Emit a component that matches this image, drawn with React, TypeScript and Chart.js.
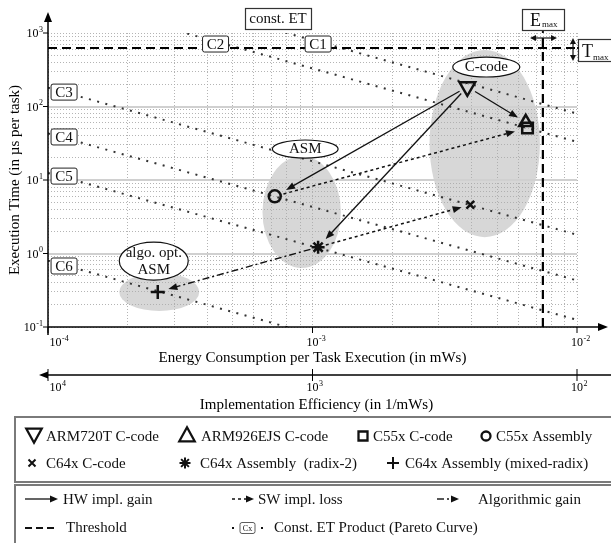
import React, { useEffect, useRef } from 'react';
import { Chart, registerables } from 'chart.js';

Chart.register(...registerables);

const FONT = '"Liberation Serif", "Times New Roman", Times, serif';

// ---------------- data ----------------
const seriesNames = [
  'ARM720T C-code',
  'ARM926EJS C-code',
  'C55x C-code',
  'C55x Assembly',
  'C64x C-code',
  'C64x Assembly  (radix-2)',
  'C64x Assembly (mixed-radix)',
];
const energy = [3.85e-3, 6.4e-3, 6.5e-3, 7.2e-4, 3.95e-3, 1.05e-3, 2.6e-4]; // mWs
const execTime = [185, 61, 51, 6.0, 4.6, 1.22, 0.3]; // µs
const pointStyles = ['triangle', 'triangle', 'rect', 'circle', 'crossRot', 'star', 'cross'];
const pointRotations = [180, 0, 0, 0, 0, 0, 0];
const pointRadii = [9, 7.5, 7.5, 6, 5.5, 6.5, 7];

const etNames = ['C1', 'C2', 'C3', 'C4', 'C5', 'C6'];
const etProducts = [0.8, 0.33, 0.018, 0.0043, 0.00125, 0.00008];
const etLabelEnergy = [1.05e-3, 4.3e-4, 1.15e-4, 1.15e-4, 1.15e-4, 1.15e-4];
const etLabelTime = [708, 708, 157, 38.5, 11.3, 0.676];

const tMax = 625;
const eMax = 7.43e-3;

const xTickExps = [-4, -3, -2];
const yTickExps = [-1, 0, 1, 2, 3];
const effTickExps = [4, 3, 2];

const groupNames = [['C-code'], ['ASM'], ['algo. opt.', 'ASM']];
const shadeEnergy = [[2.77e-3, 7.24e-3], [6.47e-4, 1.28e-3], [1.86e-4, 3.73e-4]];
const shadeTime = [[1.67, 588], [0.635, 21.2], [0.165, 0.543]];
const labelEnergy = [[3.39e-3, 6.08e-3], [7.05e-4, 1.25e-3], [1.86e-4, 3.39e-4]];
const labelTime = [[252, 471], [19.9, 35], [0.435, 1.43]];

const arrowFrom = [0, 0, 0, 3, 5, 5];
const arrowTo = [3, 1, 5, 2, 4, 6];
const arrowKind = ['hw', 'hw', 'hw', 'sw', 'sw', 'algo'];
const arrowGapStart = [9, 9, 9, 9, 8, 8];
const arrowGapEnd = [13, 9, 11, 13, 9, 11];

// ---------------- helpers ----------------
function logTicks(lo: number, hi: number) {
  const t: { value: number; major: boolean }[] = [];
  for (let e = lo; e < hi; e++) {
    for (let m = 1; m < 10; m++) t.push({ value: m * Math.pow(10, e), major: m === 1 });
  }
  t.push({ value: Math.pow(10, hi), major: true });
  return t;
}

function head(ctx: CanvasRenderingContext2D, x: number, y: number, ang: number, len = 9, half = 3.5) {
  ctx.save();
  ctx.translate(x, y);
  ctx.rotate(ang);
  ctx.beginPath();
  ctx.moveTo(0, 0);
  ctx.lineTo(-len, -half);
  ctx.lineTo(-len, half);
  ctx.closePath();
  ctx.fill();
  ctx.restore();
}

function line(ctx: CanvasRenderingContext2D, x1: number, y1: number, x2: number, y2: number) {
  ctx.beginPath();
  ctx.moveTo(x1, y1);
  ctx.lineTo(x2, y2);
  ctx.stroke();
}

function pow10(ctx: CanvasRenderingContext2D, exp: string, x: number, y: number, align: string) {
  const bf = `12px ${FONT}`;
  const ef = `8px ${FONT}`;
  ctx.font = bf;
  const wb = ctx.measureText('10').width;
  ctx.font = ef;
  const we = ctx.measureText(exp).width;
  const x0 = align === 'left' ? x : align === 'right' ? x - wb - we - 0.5 : x - wb / 2;
  ctx.textAlign = 'left';
  ctx.textBaseline = 'alphabetic';
  ctx.font = bf;
  ctx.fillText('10', x0, y + 4);
  ctx.font = ef;
  ctx.fillText(exp, x0 + wb + 0.5, y - 1.5);
}

function rrect(ctx: CanvasRenderingContext2D, x: number, y: number, w: number, h: number, r: number) {
  ctx.beginPath();
  if ((ctx as any).roundRect) (ctx as any).roundRect(x, y, w, h, r);
  else ctx.rect(x, y, w, h);
}

function text(ctx: CanvasRenderingContext2D, s: string, x: number, y: number, size = 15, align: CanvasTextAlign = 'left', base: CanvasTextBaseline = 'alphabetic') {
  ctx.font = `${size}px ${FONT}`;
  ctx.textAlign = align;
  ctx.textBaseline = base;
  ctx.fillText(s, x, y);
}

function marker(ctx: CanvasRenderingContext2D, style: string, cx: number, cy: number, s: number, rot = 0) {
  ctx.save();
  ctx.strokeStyle = '#111';
  ctx.lineWidth = 2.3;
  ctx.beginPath();
  if (style === 'triangle') {
    const dir = rot === 180 ? -1 : 1;
    ctx.moveTo(cx, cy - dir * s * 0.55);
    ctx.lineTo(cx + s * 0.55, cy + dir * s * 0.45);
    ctx.lineTo(cx - s * 0.55, cy + dir * s * 0.45);
    ctx.closePath();
    ctx.stroke();
  } else if (style === 'rect') {
    ctx.rect(cx - s / 2, cy - s / 2, s, s);
    ctx.stroke();
  } else if (style === 'circle') {
    ctx.arc(cx, cy, s / 2, 0, Math.PI * 2);
    ctx.stroke();
  } else if (style === 'crossRot') {
    ctx.lineWidth = 2;
    ctx.moveTo(cx - s / 2, cy - s / 2); ctx.lineTo(cx + s / 2, cy + s / 2);
    ctx.moveTo(cx + s / 2, cy - s / 2); ctx.lineTo(cx - s / 2, cy + s / 2);
    ctx.stroke();
  } else if (style === 'star') {
    ctx.lineWidth = 2;
    for (let k = 0; k < 4; k++) {
      const a = (k * Math.PI) / 4;
      ctx.moveTo(cx - Math.cos(a) * s / 2, cy - Math.sin(a) * s / 2);
      ctx.lineTo(cx + Math.cos(a) * s / 2, cy + Math.sin(a) * s / 2);
    }
    ctx.stroke();
  } else if (style === 'cross') {
    ctx.lineWidth = 2;
    ctx.moveTo(cx - s / 2, cy); ctx.lineTo(cx + s / 2, cy);
    ctx.moveTo(cx, cy - s / 2); ctx.lineTo(cx, cy + s / 2);
    ctx.stroke();
  }
  ctx.restore();
}

function arrowStyle(ctx: CanvasRenderingContext2D, kind: string) {
  if (kind === 'hw') { ctx.setLineDash([]); ctx.lineWidth = 1.3; }
  else if (kind === 'sw') { ctx.setLineDash([3, 3]); ctx.lineWidth = 1.5; }
  else { ctx.setLineDash([7, 3, 2, 3]); ctx.lineWidth = 1.4; }
}

// ---------------- plugin ----------------
const annotations = {
  id: 'annotations',
  beforeDraw(chart: any) {
    const { ctx, scales } = chart;
    const xs = scales.x, ys = scales.y;
    ctx.save();
    ctx.fillStyle = '#ffffff';
    ctx.fillRect(0, 0, chart.width, chart.height);
    ctx.fillStyle = '#d7d7d7';
    for (let i = 0; i < shadeEnergy.length; i++) {
      const x0 = xs.getPixelForValue(shadeEnergy[i][0]);
      const x1 = xs.getPixelForValue(shadeEnergy[i][1]);
      const y0 = ys.getPixelForValue(shadeTime[i][1]);
      const y1 = ys.getPixelForValue(shadeTime[i][0]);
      ctx.beginPath();
      ctx.ellipse((x0 + x1) / 2, (y0 + y1) / 2, (x1 - x0) / 2, (y1 - y0) / 2, 0, 0, Math.PI * 2);
      ctx.fill();
    }
    ctx.restore();
  },
  afterDatasetsDraw(chart: any) {
    const { ctx, scales } = chart;
    const xs = scales.x, ys = scales.y;
    ctx.save();
    // arrows
    ctx.strokeStyle = '#111';
    ctx.fillStyle = '#111';
    for (let i = 0; i < arrowFrom.length; i++) {
      const ax = xs.getPixelForValue(energy[arrowFrom[i]]);
      const ay = ys.getPixelForValue(execTime[arrowFrom[i]]);
      const bx = xs.getPixelForValue(energy[arrowTo[i]]);
      const by = ys.getPixelForValue(execTime[arrowTo[i]]);
      const d = Math.hypot(bx - ax, by - ay);
      const ux = (bx - ax) / d, uy = (by - ay) / d;
      const sx = ax + ux * arrowGapStart[i], sy = ay + uy * arrowGapStart[i];
      const tx = bx - ux * arrowGapEnd[i], ty = by - uy * arrowGapEnd[i];
      arrowStyle(ctx, arrowKind[i]);
      line(ctx, sx, sy, tx - ux * 7, ty - uy * 7);
      ctx.setLineDash([]);
      head(ctx, tx, ty, Math.atan2(uy, ux), 9, 3.5);
    }
    // group label ellipses
    ctx.setLineDash([]);
    for (let i = 0; i < labelEnergy.length; i++) {
      const x0 = xs.getPixelForValue(labelEnergy[i][0]);
      const x1 = xs.getPixelForValue(labelEnergy[i][1]);
      const y0 = ys.getPixelForValue(labelTime[i][1]);
      const y1 = ys.getPixelForValue(labelTime[i][0]);
      const cx = (x0 + x1) / 2, cy = (y0 + y1) / 2;
      ctx.beginPath();
      ctx.ellipse(cx, cy, (x1 - x0) / 2, (y1 - y0) / 2, 0, 0, Math.PI * 2);
      ctx.fillStyle = '#fff';
      ctx.fill();
      ctx.lineWidth = 1.2;
      ctx.strokeStyle = '#111';
      ctx.stroke();
      ctx.fillStyle = '#111';
      const lines = groupNames[i];
      lines.forEach((s, k) => {
        text(ctx, s, cx, cy + (k - (lines.length - 1) / 2) * 17, 15, 'center', 'middle');
      });
    }
    // const ET labels
    for (let i = 0; i < etNames.length; i++) {
      const px = xs.getPixelForValue(etLabelEnergy[i]);
      const py = ys.getPixelForValue(etLabelTime[i]);
      rrect(ctx, px - 13, py - 8, 26, 16, 2);
      ctx.fillStyle = '#fff';
      ctx.fill();
      ctx.lineWidth = 1;
      ctx.strokeStyle = '#222';
      ctx.stroke();
      ctx.fillStyle = '#111';
      text(ctx, etNames[i], px, py + 1, 15, 'center', 'middle');
    }
    ctx.restore();
  },
  afterDraw(chart: any) {
    const { ctx, scales, chartArea: ca } = chart;
    const xs = scales.x, ys = scales.y, x2 = scales.x2;
    ctx.save();
    ctx.strokeStyle = '#000';
    ctx.fillStyle = '#000';
    ctx.setLineDash([]);
    ctx.lineWidth = 1.5;
    // main axes
    line(ctx, ca.left, ca.bottom + 8, ca.left, 20);
    head(ctx, ca.left, 12, -Math.PI / 2, 10, 4);
    line(ctx, ca.left, ca.bottom, 600, ca.bottom);
    head(ctx, 608, ca.bottom, 0, 10, 4);
    ctx.lineWidth = 1;
    yTickExps.forEach((e) => {
      const py = ys.getPixelForValue(Math.pow(10, e));
      line(ctx, ca.left - 5, py, ca.left, py);
      pow10(ctx, String(e), ca.left - 5, py, 'right');
    });
    xTickExps.forEach((e, k) => {
      const px = xs.getPixelForValue(Math.pow(10, e));
      line(ctx, px, ca.bottom, px, ca.bottom + 6);
      pow10(ctx, String(e), k === 0 ? px + 1.5 : px, ca.bottom + 15, k === 0 ? 'left' : 'center');
    });
    // secondary axis
    const sy = 375;
    ctx.lineWidth = 1.3;
    line(ctx, 44, sy, 611, sy);
    head(ctx, 39, sy, Math.PI, 9, 3.5);
    ctx.lineWidth = 1;
    effTickExps.forEach((e, k) => {
      const px = x2.getPixelForValue(Math.pow(10, e));
      line(ctx, px, sy - 6, px, sy + 6);
      pow10(ctx, String(e), k === 0 ? px + 1.5 : px, sy + 12, k === 0 ? 'left' : 'center');
    });
    // titles
    text(ctx, 'Energy Consumption per Task Execution (in mWs)', (ca.left + ca.right) / 2, 358, 15, 'center', 'middle');
    text(ctx, 'Implementation Efficiency (in 1/mWs)', (ca.left + ca.right) / 2 + 4, 405, 15, 'center', 'middle');
    ctx.save();
    ctx.translate(15, 180);
    ctx.rotate(-Math.PI / 2);
    text(ctx, 'Execution Time (in µs per task)', 0, 0, 15, 'center', 'middle');
    ctx.restore();

    // const. ET box
    ctx.lineWidth = 1.2;
    ctx.strokeStyle = '#333';
    ctx.fillStyle = '#fff';
    ctx.fillRect(245, 8, 66, 21);
    ctx.strokeRect(245.5, 8.5, 66, 21);
    ctx.fillStyle = '#111';
    text(ctx, 'const. ET', 278, 19, 15, 'center', 'middle');

    // E_max
    const ex = xs.getPixelForValue(eMax);
    ctx.fillStyle = '#fff';
    ctx.fillRect(522, 9, 42, 21);
    ctx.strokeRect(522.5, 9.5, 42, 21);
    ctx.fillStyle = '#111';
    text(ctx, 'E', 530, 26, 18);
    text(ctx, 'max', 542, 27, 9);
    ctx.strokeStyle = '#111';
    ctx.lineWidth = 1.2;
    line(ctx, 534, 38, 553, 38);
    head(ctx, 530, 38, Math.PI, 6, 3);
    head(ctx, 557, 38, 0, 6, 3);
    ctx.lineWidth = 2;
    line(ctx, ex, 31, ex, ca.top);

    // T_max
    const ty = ys.getPixelForValue(tMax);
    ctx.lineWidth = 1.2;
    ctx.strokeStyle = '#333';
    ctx.fillStyle = '#fff';
    ctx.fillRect(578, 39, 40, 22);
    ctx.strokeRect(578.5, 39.5, 40, 22);
    ctx.fillStyle = '#111';
    text(ctx, 'T', 582, 57, 18);
    text(ctx, 'max', 593, 60, 9);
    ctx.strokeStyle = '#111';
    line(ctx, 573, 42, 573, 56);
    head(ctx, 573, 38, -Math.PI / 2, 6, 3);
    head(ctx, 573, 61, Math.PI / 2, 6, 3);
    ctx.lineWidth = 2;
    line(ctx, ca.right, ty, 579, ty);

    // ---------- legends ----------
    ctx.lineWidth = 2;
    ctx.strokeStyle = '#7a7a7a';
    ctx.strokeRect(15, 417, 610, 65);
    ctx.strokeRect(15, 485, 610, 75);
    ctx.fillStyle = '#111';
    const row1 = 441, row2 = 468, row3 = 504, row4 = 532;
    marker(ctx, 'triangle', 34, 435, 14, 180);
    text(ctx, seriesNames[0], 46, row1);
    marker(ctx, 'triangle', 187, 435, 14, 0);
    text(ctx, seriesNames[1], 201, row1);
    marker(ctx, 'rect', 363, 436, 9);
    text(ctx, seriesNames[2], 373, row1);
    marker(ctx, 'circle', 486, 436, 9);
    text(ctx, seriesNames[3], 496, row1);
    marker(ctx, 'crossRot', 32, 463, 7);
    text(ctx, seriesNames[4], 46, row2);
    marker(ctx, 'star', 185, 463, 11);
    text(ctx, seriesNames[5], 200, row2);
    marker(ctx, 'cross', 393, 463, 12);
    text(ctx, seriesNames[6], 405, row2);

    // row 3: arrows
    ctx.strokeStyle = '#111';
    ctx.fillStyle = '#111';
    const a3 = 499;
    arrowStyle(ctx, 'hw');
    line(ctx, 25, a3, 51, a3);
    ctx.setLineDash([]);
    head(ctx, 58, a3, 0, 8, 3.5);
    text(ctx, 'HW impl. gain', 63, row3);
    arrowStyle(ctx, 'sw');
    line(ctx, 232, a3, 247, a3);
    ctx.setLineDash([]);
    head(ctx, 254, a3, 0, 8, 3.5);
    text(ctx, 'SW impl. loss', 258, row3);
    ctx.lineWidth = 1.4;
    line(ctx, 437, a3, 444, a3);
    line(ctx, 447, a3, 449, a3);
    head(ctx, 459, a3, 0, 8, 3.5);
    text(ctx, 'Algorithmic gain', 478, row3);

    // row 4
    const a4 = 528;
    ctx.lineWidth = 2;
    ctx.setLineDash([7, 4]);
    line(ctx, 25, a4, 57, a4);
    ctx.setLineDash([]);
    text(ctx, 'Threshold', 66, row4);
    ctx.fillRect(232, a4 - 1, 2, 2);
    ctx.fillRect(261, a4 - 1, 2, 2);
    rrect(ctx, 240, a4 - 5.5, 15, 11, 2);
    ctx.lineWidth = 0.8;
    ctx.strokeStyle = '#333';
    ctx.stroke();
    text(ctx, 'Cx', 247.5, a4 + 0.5, 8, 'center', 'middle');
    text(ctx, 'Const. ET Product (Pareto Curve)', 274, row4);
    ctx.restore();
  },
};

export default function App() {
  const ref = useRef<HTMLCanvasElement>(null);
  useEffect(() => {
    document.body.style.margin = '0';
    const xMin = Math.pow(10, xTickExps[0]);
    const xMax = Math.pow(10, xTickExps[xTickExps.length - 1]);
    const yMin = Math.pow(10, yTickExps[0]);
    const yMax = Math.pow(10, yTickExps[yTickExps.length - 1]);

    const pointDatasets = seriesNames.map((name, i) => ({
      label: name,
      data: [{ x: energy[i], y: execTime[i] }],
      showLine: false,
      pointStyle: pointStyles[i],
      pointRotation: pointRotations[i],
      pointRadius: pointRadii[i],
      pointBorderColor: '#111',
      pointBackgroundColor: 'rgba(0,0,0,0)',
      pointBorderWidth: 2.5,
      order: 0,
    }));
    const etDatasets = etProducts.map((c, i) => ({
      label: etNames[i],
      data: [
        { x: xMin, y: c / xMin },
        { x: xMax, y: c / xMax },
      ],
      showLine: true,
      pointRadius: 0,
      borderColor: '#333',
      borderWidth: 2,
      borderDash: [2, 6.5],
      order: 2,
    }));
    const thresholdDatasets = [
      {
        label: 'T_max',
        data: [
          { x: xMin, y: tMax },
          { x: xMax, y: tMax },
        ],
      },
      {
        label: 'E_max',
        data: [
          { x: eMax, y: yMin },
          { x: eMax, y: yMax },
        ],
      },
    ].map((d) => ({
      ...d,
      showLine: true,
      pointRadius: 0,
      borderColor: '#000',
      borderWidth: 2.2,
      borderDash: [9, 5],
      order: 1,
    }));

    const isInnerMajorY = (c: any) =>
      c.tick && c.tick.major && c.tick.value > yMin * 1.01 && c.tick.value < yMax * 0.99;

    const chart = new Chart(ref.current as HTMLCanvasElement, {
      type: 'scatter',
      data: { datasets: [...pointDatasets, ...thresholdDatasets, ...etDatasets] as any },
      plugins: [annotations],
      options: {
        animation: false,
        responsive: false,
        events: [],
        layout: { padding: { left: 48, top: 33, right: 34, bottom: 216 } },
        plugins: { legend: { display: false }, tooltip: { enabled: false } },
        scales: {
          x: {
            type: 'logarithmic',
            min: xMin,
            max: xMax,
            position: 'bottom',
            afterBuildTicks: (s: any) => {
              s.ticks = logTicks(xTickExps[0], xTickExps[xTickExps.length - 1]);
            },
            afterFit: (s: any) => {
              s.height = 0;
            },
            ticks: { display: false, autoSkip: false },
            grid: { drawTicks: false, color: '#ababab', lineWidth: 0.9 },
            border: { display: false, dash: [1, 2] },
          },
          y: {
            type: 'logarithmic',
            min: yMin,
            max: yMax,
            position: 'left',
            afterBuildTicks: (s: any) => {
              s.ticks = logTicks(yTickExps[0], yTickExps[yTickExps.length - 1]);
            },
            afterFit: (s: any) => {
              s.width = 0;
            },
            ticks: { display: false, autoSkip: false },
            grid: {
              drawTicks: false,
              color: (c: any) => (isInnerMajorY(c) ? '#d0d0d0' : '#ababab'),
              lineWidth: (c: any) => (isInnerMajorY(c) ? 2 : 0.9),
            },
            border: { display: false, dash: (c: any) => (isInnerMajorY(c) ? [] : [1, 2]) },
          },
          x2: {
            type: 'logarithmic',
            min: Math.pow(10, effTickExps[effTickExps.length - 1]),
            max: Math.pow(10, effTickExps[0]),
            reverse: true,
            position: 'bottom',
            display: false,
          },
        },
      } as any,
    });
    return () => chart.destroy();
  }, []);
  return (
    <div style={{ width: 611, height: 543, position: 'relative' }}>
      <canvas ref={ref} width={611} height={543} style={{ display: 'block' }} />
    </div>
  );
}
